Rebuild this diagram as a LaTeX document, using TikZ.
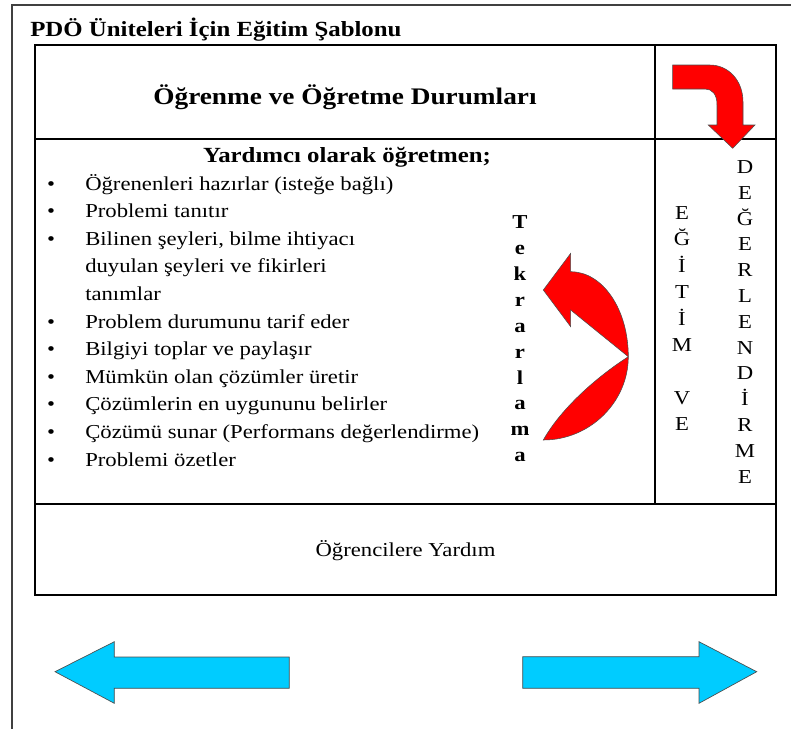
\documentclass[tikz,border=0pt]{standalone}
\usepackage{fontspec}
\setmainfont{Liberation Serif}[FakeStretch=1.15]
\usetikzlibrary{positioning}
\definecolor{arrowred}{RGB}{255,0,0}
\definecolor{arrowblue}{RGB}{0,204,255}

\begin{document}
\begin{tikzpicture}[
		x=0.75pt, y=-0.75pt,
		every node/.style={inner sep=0pt},
		thickrule/.style={line width=2.2pt, line cap=rect},
		thinrule/.style={line width=1.3pt, line cap=rect},
		redarrow/.style={fill=arrowred, draw=black!70, line width=0.4pt},
		bluearrow/.style={fill=arrowblue, draw=black!70, line width=0.5pt},
		bodytext/.style={font=\fontsize{14.8}{17}\selectfont},
		boldtext/.style={font=\fontsize{16.2}{19}\selectfont\bfseries},
		lettertext/.style={font=\fontsize{14.8}{17}\selectfont, anchor=base}
		]
		
		\useasboundingbox (0,0) rectangle (791,729);
		
		% outer frame
		\draw[line width=0.8pt, black!75] (791,5) -- (12,5) -- (12,729);
		
		% table
		\draw[thinrule] (35,45) -- (776,45) -- (776,595) -- (35,595);
		\draw[thinrule] (35,504) -- (776,504);
		\draw[thickrule] (35,139) -- (776,139);
		\draw[thickrule] (655,45) -- (655,504);
		\draw[thickrule] (35,45) -- (35,595);
		
		% titles
		\node[boldtext, anchor=base west] (title) at (30,36.7) {PDÖ Üniteleri İçin Eğitim Şablonu};
		\node[boldtext, font=\fontsize{17.8}{20}\selectfont\bfseries, anchor=base] (heading) at (345,104) {Öğrenme ve Öğretme Durumları};
		\node[boldtext, anchor=base] (helper) at (347,162) {Yardımcı olarak öğretmen;};
		\node[bodytext, anchor=base] (support) at (405.5,556) {Öğrencilere Yardım};
		
		% list
		\foreach \i/\txt in {0/Öğrenenleri hazırlar (isteğe bağlı), 1/Problemi tanıtır,
			2/{Bilinen şeyleri, bilme ihtiyacı}, 3/duyulan şeyleri ve fikirleri, 4/tanımlar,
			5/Problem durumunu tarif eder, 6/Bilgiyi toplar ve paylaşır,
			7/Mümkün olan çözümler üretir, 8/Çözümlerin en uygununu belirler,
			9/Çözümü sunar (Performans değerlendirme), 10/Problemi özetler}
			\node[bodytext, anchor=base west] (item\i) at (85,{190+27.6*\i}) {\txt};
		\foreach \i in {0,1,2,5,6,7,8,9,10}
			\node[bodytext, anchor=base] (dot\i) at (51,{190+27.6*\i}) {•};
		
		% vertical words
		\foreach \ch [count=\k from 0] in {T,e,k,r,a,r,l,a,m,a}
			\node[lettertext, font=\fontsize{14.8}{17}\selectfont\bfseries] (rep\k) at (520,{228.6+25.9*\k}) {\ch};
		\foreach \k/\ch in {0/E,1/Ğ,2/İ,3/T,4/İ,5/M,7/V,8/E}
			\node[lettertext] (edu\k) at (682,{219.5+26.4*\k}) {\ch};
		\foreach \ch [count=\k from 0] in {D,E,Ğ,E,R,L,E,N,D,İ,R,M,E}
			\node[lettertext] (eval\k) at (745,{173.5+25.8*\k}) {\ch};
		
		% red arrows
		\draw[redarrow] (672.7,65) -- (710,65) .. controls (728,65) and (743,80) .. (743,102)
			-- (743,125) -- (755,125) -- (732.7,148.3) -- (708.3,125) -- (717,125) -- (717,105)
			.. controls (717,94) and (712,89) .. (705,89) -- (672.7,89) -- cycle;
		\draw[redarrow] (543.3,290) -- (570.7,253.3) -- (570.7,271.7)
			.. controls (602.5,271.7) and (628.3,309) .. (628.3,356.7)
			.. controls (628.3,402) and (590,440) .. (543.3,440)
			.. controls (560,410) and (595,378) .. (628.3,356.7)
			-- (570.7,310) -- (570.7,326.7) -- cycle;
		
		% blue arrows
		\draw[bluearrow] (55,671.7) -- (114.3,641.7) -- (114.3,657) -- (289.3,657)
			-- (289.3,688.3) -- (114.3,688.3) -- (114.3,703.3) -- cycle;
		\draw[bluearrow] (756.7,671.7) -- (699,641.7) -- (699,656.7) -- (522.7,656.7)
			-- (522.7,688.3) -- (699,688.3) -- (699,703.3) -- cycle;
		
\end{tikzpicture}
\end{document}
